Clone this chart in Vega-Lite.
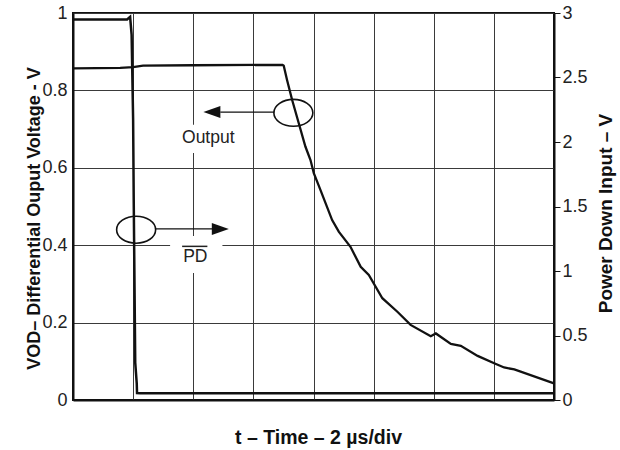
{
  "$schema": "https://vega.github.io/schema/vega-lite/v6.json",
  "autosize": {"type": "none"},
  "width": 481,
  "height": 387,
  "padding": {"left": 73, "top": 13, "right": 66, "bottom": 50},
  "background": "white",
  "config": {
    "font": "Liberation Sans",
    "view": {"stroke": "#111", "strokeWidth": 2},
    "axis": {"labelColor": "#222", "titleColor": "#111", "domainColor": "#111", "domainWidth": 2, "gridColor": "#3a3a3a", "gridWidth": 1, "gridOpacity": 1}
  },
  "datasets": {
    "output": [
      {"t": 0, "v": 0.857}, {"t": 1.57, "v": 0.858}, {"t": 2.0, "v": 0.86}, {"t": 2.33, "v": 0.864},
      {"t": 4.0, "v": 0.865}, {"t": 6.97, "v": 0.866}, {"t": 7.01, "v": 0.864}, {"t": 7.12, "v": 0.827},
      {"t": 7.29, "v": 0.775}, {"t": 7.51, "v": 0.715}, {"t": 7.73, "v": 0.655}, {"t": 7.9, "v": 0.62},
      {"t": 8.01, "v": 0.586}, {"t": 8.23, "v": 0.543}, {"t": 8.62, "v": 0.465}, {"t": 8.84, "v": 0.435},
      {"t": 9.23, "v": 0.396}, {"t": 9.57, "v": 0.344}, {"t": 9.84, "v": 0.323}, {"t": 10.29, "v": 0.263},
      {"t": 10.79, "v": 0.228}, {"t": 11.23, "v": 0.194}, {"t": 11.9, "v": 0.165}, {"t": 12.07, "v": 0.172},
      {"t": 12.57, "v": 0.145}, {"t": 12.9, "v": 0.14}, {"t": 13.46, "v": 0.114}, {"t": 14.01, "v": 0.095},
      {"t": 14.34, "v": 0.084}, {"t": 14.68, "v": 0.079}, {"t": 16.0, "v": 0.043}
    ],
    "pd": [
      {"t": 0, "v": 2.95}, {"t": 1.8, "v": 2.95}, {"t": 1.9, "v": 2.97}, {"t": 1.95, "v": 2.83},
      {"t": 2.0, "v": 2.17}, {"t": 2.02, "v": 1.55}, {"t": 2.07, "v": 0.29}, {"t": 2.12, "v": 0.13},
      {"t": 2.13, "v": 0.054}, {"t": 2.23, "v": 0.052}, {"t": 16.0, "v": 0.052}
    ],
    "ellipses": [{"t": 7.33, "v": 0.742}, {"t": 2.1, "v": 0.44}],
    "arrows": [{"t": 4.9, "t2": 6.7, "v": 0.744}, {"t": 2.73, "t2": 4.63, "v": 0.442}],
    "headLeft": [{"t": 4.62, "v": 0.744}],
    "headRight": [{"t": 4.9, "v": 0.442}],
    "boxes": [{"t": 3.57, "t2": 5.43, "v": 0.711, "v2": 0.638}, {"t": 3.23, "t2": 4.97, "v": 0.424, "v2": 0.328}],
    "labels": [{"t": 4.5, "v": 0.677, "label": "Output"}, {"t": 4.07, "v": 0.37, "label": "PD"}],
    "overline": [{"t": 3.63, "t2": 4.47, "v": 0.397}]
  },
  "layer": [
    {
      "layer": [
        {
          "data": {"name": "output"},
          "mark": {"type": "line", "color": "#111", "strokeWidth": 2.3},
          "encoding": {
            "x": {"field": "t", "type": "quantitative", "scale": {"domain": [0, 16], "nice": false},
              "axis": {"values": [0, 2, 4, 6, 8, 10, 12, 14, 16], "labels": false, "ticks": false, "grid": true,
                "title": "t – Time – 2 µs/div", "titleFontSize": 19.5, "titleFontWeight": "bold",
                "titleBaseline": "alphabetic", "titleX": 245, "titleY": 43.5}},
            "y": {"field": "v", "type": "quantitative", "scale": {"domain": [0, 1], "nice": false},
              "axis": {"values": [0, 0.2, 0.4, 0.6, 0.8, 1], "ticks": false, "labelPadding": 6, "labelFontSize": 18, "grid": true,
                "format": "~g",
                "title": "VOD– Differential Ouput Voltage - V", "titleFontSize": 18, "titleFontWeight": "bold",
                "titleAngle": 270, "titleBaseline": "alphabetic", "titleX": -34, "titleY": 205}}
          }
        },
        {
          "data": {"name": "boxes"},
          "mark": {"type": "rect", "color": "white"},
          "encoding": {
            "x": {"field": "t", "type": "quantitative"},
            "x2": {"field": "t2"},
            "y": {"field": "v", "type": "quantitative"},
            "y2": {"field": "v2"}
          }
        },
        {
          "data": {"name": "ellipses"},
          "mark": {"type": "point", "shape": "M -1 0 A 1 0.69 0 1 0 1 0 A 1 0.69 0 1 0 -1 0 Z", "size": 1521, "filled": false, "stroke": "#111", "strokeWidth": 1.6, "opacity": 1},
          "encoding": {
            "x": {"field": "t", "type": "quantitative"},
            "y": {"field": "v", "type": "quantitative"}
          }
        },
        {
          "data": {"name": "arrows"},
          "mark": {"type": "rule", "color": "#111", "strokeWidth": 1.3},
          "encoding": {
            "x": {"field": "t", "type": "quantitative"},
            "x2": {"field": "t2"},
            "y": {"field": "v", "type": "quantitative"}
          }
        },
        {
          "data": {"name": "headLeft"},
          "mark": {"type": "point", "shape": "M -1 0 L 1 -0.7 L 1 0.7 Z", "size": 289, "filled": true, "color": "#111", "opacity": 1},
          "encoding": {
            "x": {"field": "t", "type": "quantitative"},
            "y": {"field": "v", "type": "quantitative"}
          }
        },
        {
          "data": {"name": "headRight"},
          "mark": {"type": "point", "shape": "M 1 0 L -1 -0.7 L -1 0.7 Z", "size": 289, "filled": true, "color": "#111", "opacity": 1},
          "encoding": {
            "x": {"field": "t", "type": "quantitative"},
            "y": {"field": "v", "type": "quantitative"}
          }
        },
        {
          "data": {"name": "labels"},
          "mark": {"type": "text", "fontSize": 17.5, "color": "#222", "baseline": "middle", "align": "center"},
          "encoding": {
            "x": {"field": "t", "type": "quantitative"},
            "y": {"field": "v", "type": "quantitative"},
            "text": {"field": "label"}
          }
        },
        {
          "data": {"name": "overline"},
          "mark": {"type": "rule", "color": "#222", "strokeWidth": 1.5},
          "encoding": {
            "x": {"field": "t", "type": "quantitative"},
            "x2": {"field": "t2"},
            "y": {"field": "v", "type": "quantitative"}
          }
        }
      ]
    },
    {
      "data": {"name": "pd"},
      "mark": {"type": "line", "color": "#111", "strokeWidth": 2.5},
      "encoding": {
        "x": {"field": "t", "type": "quantitative"},
        "y": {"field": "v", "type": "quantitative", "scale": {"domain": [0, 3], "nice": false},
          "axis": {"orient": "right", "values": [0, 0.5, 1, 1.5, 2, 2.5, 3], "grid": false, "ticks": true, "tickSize": 6, "tickColor": "#111", "tickWidth": 1,
            "labelPadding": 2, "labelFontSize": 18, "format": "~g",
            "title": "Power Down Input – V", "titleFontSize": 19, "titleFontWeight": "bold",
            "titleAngle": 270, "titleBaseline": "alphabetic", "titleX": 57, "titleY": 200}}
      }
    }
  ],
  "resolve": {"scale": {"y": "independent"}}
}
